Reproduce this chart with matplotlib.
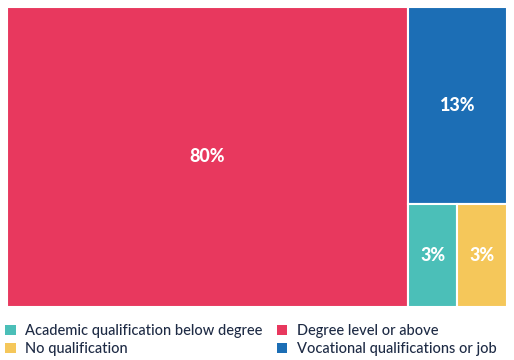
import matplotlib
matplotlib.use("Agg")
import matplotlib.pyplot as plt
from matplotlib.patches import Rectangle, Patch

categories = ["Academic qualification below degree", "Degree level or above",
              "No qualification", "Vocational qualifications or job"]
values = [3.4, 80.1, 3.4, 13.0]
colors = ["#4BBFB8", "#E8385E", "#F5C75A", "#1C6EB5"]
legend_order = ["Academic qualification below degree", "No qualification",
                "Degree level or above", "Vocational qualifications or job"]

plt.rcParams['font.family'] = ['Lato', 'DejaVu Sans']

W, H = 514, 360
fig = plt.figure(figsize=(W / 100, H / 100), dpi=100)
x0, x1, y0, y1 = 7, 507, 7, 307
ax = fig.add_axes([x0 / W, 1 - y1 / H, (x1 - x0) / W, (y1 - y0) / H])
tw, th = x1 - x0, y1 - y0
ax.set_xlim(0, tw)
ax.set_ylim(th, 0)
ax.axis('off')

d = dict(zip(categories, values))
c = dict(zip(categories, colors))
total = sum(values)

rects = {}
wdeg = tw * d["Degree level or above"] / total
rects["Degree level or above"] = (0, 0, wdeg, th)
rest = total - d["Degree level or above"]
wr = tw - wdeg
hv = th * d["Vocational qualifications or job"] / rest
rects["Vocational qualifications or job"] = (wdeg, 0, wr, hv)
bottom = d["Academic qualification below degree"] + d["No qualification"]
wa = wr * d["Academic qualification below degree"] / bottom
rects["Academic qualification below degree"] = (wdeg, hv, wa, th - hv)
rects["No qualification"] = (wdeg + wa, hv, wr - wa, th - hv)

for k, (rx, ry, rw, rh) in rects.items():
    ax.add_patch(Rectangle((rx, ry), rw, rh, facecolor=c[k], edgecolor='white', linewidth=1.5))
    ax.text(rx + rw / 2, ry + rh / 2, f"{round(d[k]):.0f}%", ha='center', va='center',
            color='white', fontsize=13, fontweight='black')

handles = [Patch(facecolor=c[k], edgecolor='none', label=k) for k in legend_order]
fig.legend(handles=handles, ncol=2, loc='upper left', bbox_to_anchor=(0.005, 1 - 321 / H),
           frameon=False, prop={'size': 10.5, 'weight': 'medium'},
           handlelength=0.7, handleheight=0.7,
           handletextpad=0.65, columnspacing=1.0, labelspacing=0.3, labelcolor='#1E2B45',
           borderaxespad=0, borderpad=0.2)

fig.savefig("out.png", dpi=100)
